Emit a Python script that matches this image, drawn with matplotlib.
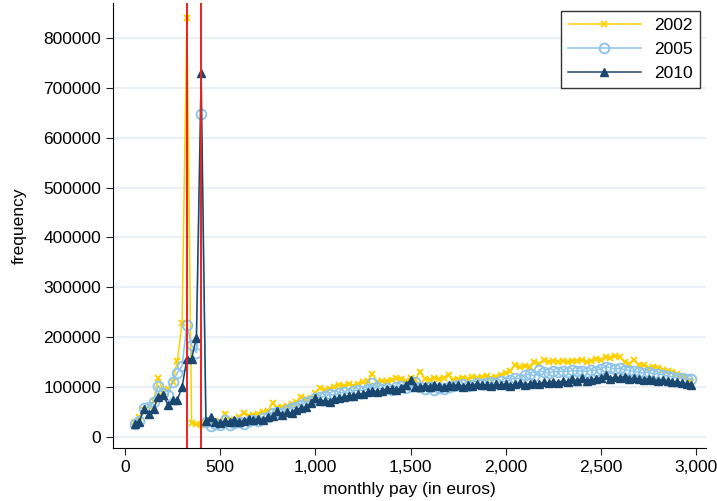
import numpy as np
import matplotlib
matplotlib.use("Agg")
from matplotlib import pyplot as plt
from matplotlib.ticker import FuncFormatter

plt.rcParams['font.family'] = ['Liberation Sans', 'DejaVu Sans']

# monthly pay bins (euros), 25-euro steps
pay = list(range(50, 3000, 25))

# frequencies in thousands
freq_2002 = [
    30, 40, 55, 63, 72, 119, 90, 97, 110, 153, 229, 840, 29, 26, 25, 28,
    30, 27, 33, 46, 34, 35, 40, 48, 42, 45, 47, 50, 52, 68, 58, 60,
    62, 66, 70, 80, 76, 78, 88, 98, 95, 97, 100, 104, 103, 106, 103, 107,
    110, 112, 127, 110, 113, 112, 115, 118, 116, 112, 118, 115, 131, 117, 115, 118,
    116, 119, 124, 115, 117, 119, 116, 121, 118, 120, 122, 119, 121, 124, 128, 133,
    145, 140, 143, 141, 151, 147, 154, 150, 152, 150, 153, 151, 153, 152, 155, 150,
    152, 157, 155, 160, 158, 163, 160, 150, 147, 155, 144, 145, 139, 141, 138, 135,
    133, 130, 127, 123, 120, 110,
]
freq_2005 = [
    27, 32, 58, 60, 70, 103, 88, 85, 110, 129, 143, 224, 184, 169, 647, 30,
    22, 27, 25, 34, 24, 28, 30, 27, 33, 35, 32, 38, 40, 48, 50, 48,
    55, 58, 60, 65, 70, 72, 78, 80, 82, 86, 84, 88, 90, 87, 92, 95,
    93, 97, 108, 100, 96, 98, 94, 100, 103, 98, 102, 110, 100, 97, 100, 95,
    98, 97, 100, 102, 104, 106, 103, 105, 108, 107, 109, 110, 108, 112, 110, 115,
    118, 117, 124, 127, 122, 134, 130, 128, 132, 130, 133, 131, 134, 132, 133, 131,
    135, 133, 137, 141, 139, 136, 138, 135, 133, 132, 130, 128, 131, 126, 127, 125,
    122, 121, 119, 118, 116, 116,
]
freq_2010 = [
    27, 31, 56, 47, 56, 81, 84, 65, 74, 75, 100, 157, 157, 199, 730, 33,
    40, 30, 28, 32, 31, 35, 30, 33, 36, 34, 37, 35, 40, 42, 52, 44,
    50, 48, 55, 58, 60, 68, 78, 72, 73, 71, 76, 78, 80, 83, 82, 87,
    86, 90, 92, 91, 93, 96, 97, 95, 99, 105, 114, 101, 100, 103, 101, 104,
    102, 100, 104, 103, 105, 101, 104, 103, 106, 104, 105, 103, 106, 104, 107, 103,
    106, 108, 104, 107, 109, 106, 110, 108, 111, 109, 113, 110, 117, 112, 118, 113,
    115, 117, 119, 124, 117, 120, 119, 121, 117, 118, 116, 114, 117, 115, 113, 115,
    112, 111, 110, 108, 106, 104,
]
thresholds = [325, 400]
years = ['2002', '2005', '2010']

fig = plt.figure(figsize=(7.17, 5.01), dpi=100)
ax = fig.add_axes([113/717, 1-448/501, (706-113)/717, (448-3)/501])

x = np.array(pay)
ax.plot(x, np.array(freq_2002)*1000, color='#ffd000', lw=1.1, marker='x',
        ms=5, mew=1.4, label=years[0], zorder=2)
ax.plot(x, np.array(freq_2005)*1000, color='#8cc4ea', lw=1.1, marker='o',
        ms=7, mfc='none', mew=1.3, label=years[1], zorder=2)
ax.plot(x, np.array(freq_2010)*1000, color='#1a476f', lw=1.1, marker='^',
        ms=5.5, label=years[2], zorder=2)
for t in thresholds:
    ax.axvline(t, color='#ee2020', lw=1.4, zorder=3)

ax.set_xlim(-63, 3052)
ax.set_ylim(-22000, 870000)
ax.set_yticks(range(0, 800001, 100000))
ax.set_xticks(range(0, 3001, 500))
ax.xaxis.set_major_formatter(FuncFormatter(lambda v, p: f"{v:,.0f}"))
ax.grid(axis='y', color='#eaf0f3', lw=1.6, zorder=0)
ax.set_axisbelow(True)
for s in ['top', 'right']:
    ax.spines[s].set_visible(False)
ax.tick_params(direction='out', length=5, labelsize=12.5, color='#222222')
ax.set_xlabel('monthly pay (in euros)', fontsize=12.5, labelpad=5)
ax.set_ylabel('frequency', fontsize=12.5, labelpad=12)

leg = ax.legend(loc='upper right', bbox_to_anchor=(700/717, 1-11/501),
                bbox_transform=fig.transFigure, borderaxespad=0,
                numpoints=1, handlelength=4.2, fontsize=12.5, fancybox=False,
                edgecolor='#333333', framealpha=1)
leg.get_frame().set_linewidth(1.0)

fig.savefig('out.png', dpi=100)
